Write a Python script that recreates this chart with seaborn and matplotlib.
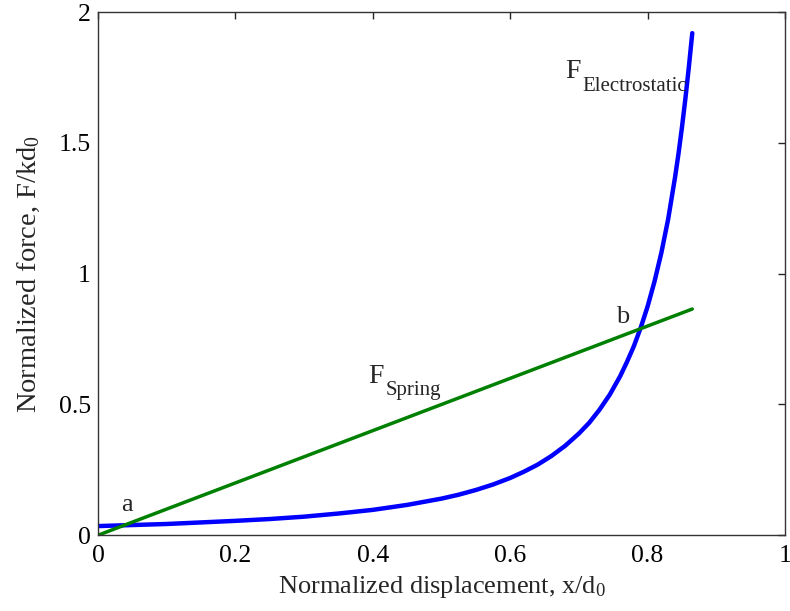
import numpy as np
import pandas as pd
import matplotlib
matplotlib.use('Agg')
import matplotlib.pyplot as plt
import seaborn as sns

# values
x_elec = [0.0, 0.1, 0.2, 0.25, 0.3, 0.35, 0.4, 0.45, 0.5, 0.525, 0.55, 0.575, 0.6, 0.62,
          0.64, 0.66, 0.68, 0.70, 0.715, 0.73, 0.745, 0.76, 0.77, 0.78, 0.79, 0.80, 0.81,
          0.82, 0.83, 0.84, 0.845, 0.85, 0.855, 0.86, 0.865]
y_elec = [0.035, 0.043, 0.055, 0.062, 0.071, 0.083, 0.097, 0.116, 0.14, 0.155, 0.173,
          0.194, 0.219, 0.243, 0.27, 0.303, 0.342, 0.389, 0.43, 0.48, 0.538, 0.608,
          0.663, 0.723, 0.794, 0.875, 0.97, 1.08, 1.21, 1.37, 1.46, 1.56, 1.67, 1.79, 1.92]
x_spring = [0.0, 0.865]
y_spring = [0.0, 0.865]

elec = pd.DataFrame({'x': x_elec, 'F': y_elec})
spring = pd.DataFrame({'x': x_spring, 'F': y_spring})

sns.set_style('white')
plt.rcParams['font.family'] = ['Liberation Serif', 'DejaVu Serif']
plt.rcParams['mathtext.fontset'] = 'custom'
plt.rcParams['mathtext.rm'] = 'Liberation Serif'
plt.rcParams['mathtext.it'] = 'Liberation Serif:italic'

fig = plt.figure(figsize=(7.9, 6.11), dpi=100)
ax = fig.add_axes([0.124, 0.124, 0.8697, 0.856])

sns.lineplot(data=elec, x='x', y='F', color=(0, 0, 1), linewidth=3.2, sort=False, ax=ax)
sns.lineplot(data=spring, x='x', y='F', color=(0, 0.5, 0), linewidth=2.5, sort=False, ax=ax)

ax.set_xlim(0, 1)
ax.set_ylim(0, 2)
ax.set_xticks([0, 0.2, 0.4, 0.6, 0.8, 1])
ax.set_xticklabels(['0', '0.2', '0.4', '0.6', '0.8', '1'])
ax.set_yticks([0, 0.5, 1, 1.5, 2])
ax.set_yticklabels(['0', '0.5', '1', '1.5', '2'])
ax.tick_params(direction='in', length=5, width=1, top=True, right=True,
               labelsize=18.5, colors='#262626', labelcolor='black', pad=5)
ax.tick_params(axis='x', pad=7)
for s in ax.spines.values():
    s.set_color('#333333')
    s.set_linewidth(1)

ax.set_xlabel(r'Normalized displacement, x/d$_0$', fontsize=19, labelpad=5)
ax.set_ylabel(r'Normalized force, F/kd$_0$', fontsize=20.5, labelpad=12)

ax.text(0.042, 0.115, 'a', fontsize=19, ha='center', va='center')
ax.text(0.763, 0.834, 'b', fontsize=19, ha='center', va='center')

# F with large subscripts, composed from two texts
ax.text(0.393, 0.581, 'F', fontsize=20, ha='left', va='baseline')
ax.text(0.418, 0.535, 'Spring', fontsize=15, ha='left', va='baseline')
ax.text(0.68, 1.748, 'F', fontsize=20, ha='left', va='baseline')
ax.text(0.705, 1.70, 'Electrostatic', fontsize=15, ha='left', va='baseline')

fig.savefig('out.png', dpi=100)
